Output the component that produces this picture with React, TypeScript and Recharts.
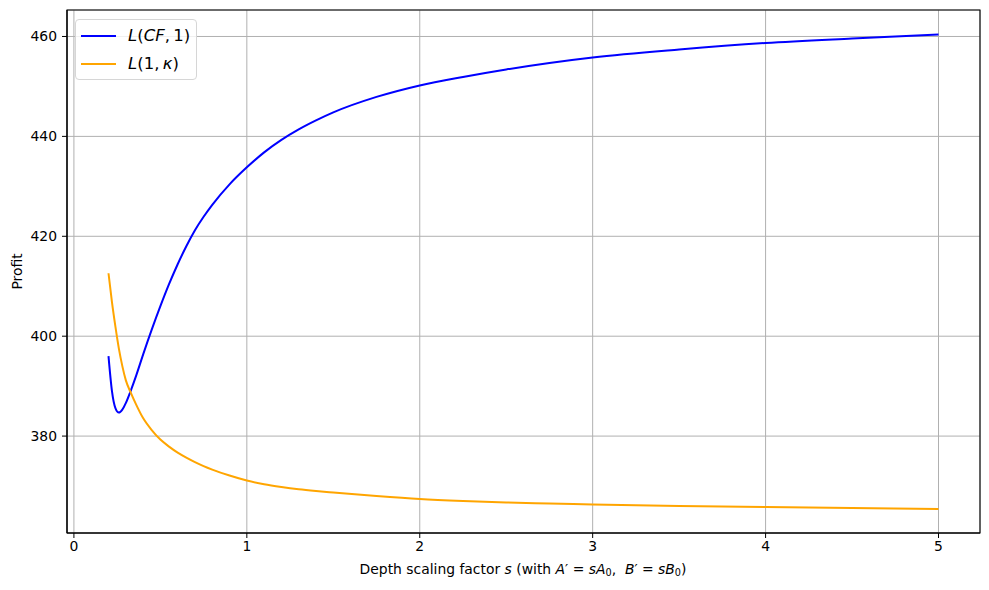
import {
  LineChart,
  Line,
  XAxis,
  YAxis,
  CartesianGrid,
  ReferenceArea,
  Legend,
} from "recharts";

const FONT = "'DejaVu Sans', sans-serif";
const NB = "\u00A0";

// depth scaling factor s
const sValues = [
  0.2, 0.22, 0.24, 0.26, 0.28, 0.3, 0.33, 0.36, 0.4, 0.45, 0.5, 0.55, 0.6, 0.65,
  0.7, 0.75, 0.8, 0.9, 1.0, 1.1, 1.2, 1.3, 1.4, 1.5, 1.75, 2.0, 2.25, 2.5, 2.75,
  3.0, 3.5, 4.0, 4.5, 5.0,
];
// L(CF, 1)
const lcfValues = [
  396.0, 389.0, 385.6, 384.7, 385.3, 386.6, 389.2, 392.1, 396.3, 401.3, 406.0,
  410.4, 414.4, 418.0, 421.2, 423.9, 426.3, 430.4, 433.8, 436.8, 439.3, 441.4,
  443.2, 444.8, 447.9, 450.2, 451.9, 453.4, 454.7, 455.8, 457.4, 458.7, 459.6,
  460.4,
];
// L(1, kappa)
const lkValues = [
  412.6, 406.8, 401.9, 397.5, 394.0, 391.2, 388.6, 386.3, 383.6, 381.2, 379.3,
  377.9, 376.7, 375.7, 374.8, 374.0, 373.3, 372.1, 371.1, 370.35, 369.8, 369.35,
  369.0, 368.7, 368.0, 367.4, 367.0, 366.7, 366.5, 366.3, 366.0, 365.8, 365.6,
  365.4,
];

const xTicks = [0, 1, 2, 3, 4, 5];
const yTicks = [380, 400, 420, 440, 460];

const X_DOMAIN = [-0.04, 5.24];
const Y_DOMAIN = [360.6, 465.3];

const data = sValues.map((s, i) => ({ s, lcf: lcfValues[i], lk: lkValues[i] }));

const tickStyle = { fill: "#000", fontSize: 13.9, fontFamily: FONT };

function LegendBox() {
  const row = (top: number, color: string, label: React.ReactNode) => (
    <div style={{ position: "absolute", left: 0, top, width: "100%", height: 0 }}>
      <div
        style={{
          position: "absolute",
          left: 5,
          top: -1,
          width: 35,
          height: 2,
          background: color,
        }}
      />
      <div
        style={{
          position: "absolute",
          left: 52,
          top: -11,
          lineHeight: "22px",
          whiteSpace: "nowrap",
          color: "#000",
        }}
      >
        {label}
      </div>
    </div>
  );
  return (
    <div
      style={{
        position: "relative",
        width: 122,
        height: 61,
        boxSizing: "border-box",
        border: "1px solid #d6d6d6",
        borderRadius: 4,
        background: "rgba(255,255,255,0.8)",
        fontFamily: FONT,
        fontSize: 16.5,
      }}
    >
      {row(
        15.5,
        "#0000ff",
        <span>
          <i>L</i>(<i>CF</i>,&#8201;1)
        </span>
      )}
      {row(
        44,
        "#ffa500",
        <span>
          <i>L</i>(1,&#8201;<i>κ</i>)
        </span>
      )}
    </div>
  );
}

function XLabel() {
  return (
    <text
      x={523}
      y={569}
      textAnchor="middle"
      dominantBaseline="central"
      fontFamily={FONT}
      fontSize={13.9}
      fill="#000"
    >
      <tspan>{`Depth scaling factor${NB}`}</tspan>
      <tspan fontStyle="italic">s</tspan>
      <tspan>{`${NB}(with${NB}`}</tspan>
      <tspan fontStyle="italic">A</tspan>
      <tspan>{`′${NB}=${NB}`}</tspan>
      <tspan fontStyle="italic">sA</tspan>
      <tspan fontSize={9.7} dy={3}>0</tspan>
      <tspan dy={-3}>{`,${NB}${NB}`}</tspan>
      <tspan fontStyle="italic">B</tspan>
      <tspan>{`′${NB}=${NB}`}</tspan>
      <tspan fontStyle="italic">sB</tspan>
      <tspan fontSize={9.7} dy={3}>0</tspan>
      <tspan dy={-3}>)</tspan>
    </text>
  );
}

function YLabel() {
  return (
    <text
      x={16.5}
      y={271.5}
      transform="rotate(-90 16.5 271.5)"
      textAnchor="middle"
      dominantBaseline="central"
      fontFamily={FONT}
      fontSize={13.9}
      fill="#000"
    >
      Profit
    </text>
  );
}

export default function App() {
  return (
    <div style={{ position: "absolute", left: 0, top: 0, background: "#fff" }}>
      <LineChart
        width={989}
        height={590}
        data={data}
        margin={{ top: 10, right: 9, bottom: 0, left: 0 }}
      >
        <CartesianGrid stroke="#b0b0b0" strokeWidth={1} />
        <XAxis
          dataKey="s"
          type="number"
          domain={X_DOMAIN}
          ticks={xTicks}
          allowDataOverflow
          height={57}
          tick={tickStyle}
          tickSize={5}
          tickMargin={3}
          axisLine={{ stroke: "#000", strokeWidth: 1.1 }}
          tickLine={{ stroke: "#000" }}
          label={{ content: () => <XLabel /> }}
        />
        <YAxis
          type="number"
          domain={Y_DOMAIN}
          ticks={yTicks}
          allowDataOverflow
          width={67}
          tick={tickStyle}
          tickSize={5}
          tickMargin={5}
          axisLine={{ stroke: "#000", strokeWidth: 1.1 }}
          tickLine={{ stroke: "#000" }}
          label={{ content: () => <YLabel /> }}
        />
        <ReferenceArea
          x1={X_DOMAIN[0]}
          x2={X_DOMAIN[1]}
          y1={Y_DOMAIN[0]}
          y2={Y_DOMAIN[1]}
          fill="none"
          stroke="#000"
          strokeWidth={1.1}
          ifOverflow="visible"
        />
        <Legend
          layout="vertical"
          align="center"
          verticalAlign="middle"
          wrapperStyle={{ left: 75, top: 19, width: 122, height: 61 }}
          content={() => <LegendBox />}
        />
        <Line
          type="monotone"
          dataKey="lcf"
          stroke="#0000ff"
          strokeWidth={2}
          dot={false}
          isAnimationActive={false}
        />
        <Line
          type="monotone"
          dataKey="lk"
          stroke="#ffa500"
          strokeWidth={2}
          dot={false}
          isAnimationActive={false}
        />
      </LineChart>
    </div>
  );
}
